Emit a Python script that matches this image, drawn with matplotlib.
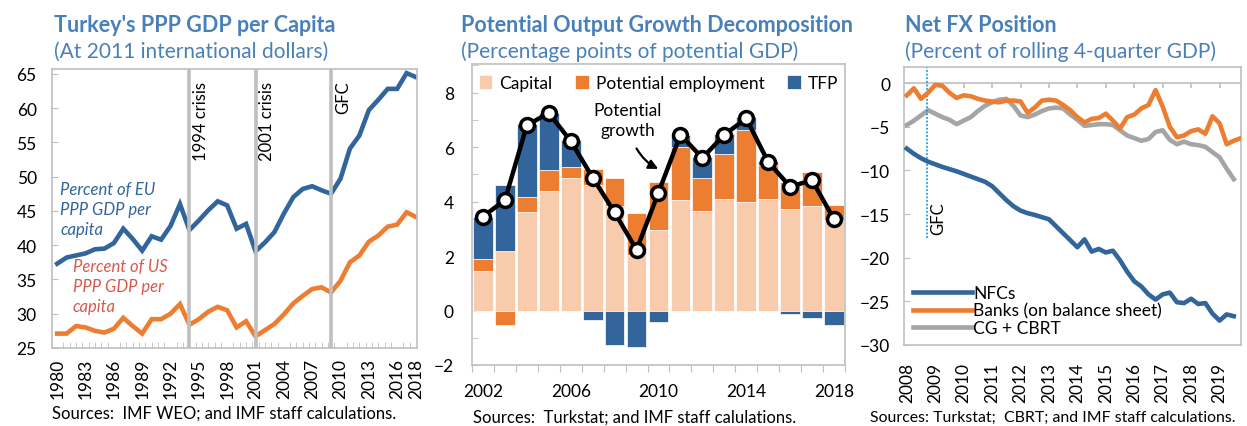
import numpy as np
import matplotlib.pyplot as plt
from matplotlib.ticker import MultipleLocator

plt.rcParams['font.family'] = ['Lato', 'DejaVu Sans']

BLUE = '#31659c'
ORANGE = '#ed7d31'
PEACH = '#f8cbad'
GREY = '#a5a5a5'
FRAME = '#bfbfbf'
TITLE = '#4a80b8'

# ---- panel 1: PPP GDP per capita ----
years = list(range(1980, 2019))
eu_share = [37.3, 38.2, 38.5, 38.8, 39.4, 39.5, 40.3, 42.4, 40.9, 39.2,
            41.3, 40.8, 42.8, 46.0, 42.2, 43.6, 45.1, 46.4, 45.8, 42.4,
            43.1, 39.1, 40.4, 41.9, 44.6, 47.0, 48.2, 48.6, 48.0, 47.5,
            49.7, 54.1, 56.0, 59.7, 61.2, 62.8, 62.8, 65.1, 64.5]
us_share = [27.1, 27.1, 28.2, 28.0, 27.5, 27.25, 27.8, 29.4, 28.2, 27.1,
            29.2, 29.2, 30.0, 31.4, 28.4, 29.2, 30.3, 31.0, 30.5, 28.0,
            28.9, 26.7, 27.6, 28.5, 29.9, 31.5, 32.6, 33.6, 33.85, 33.1,
            34.8, 37.5, 38.5, 40.5, 41.4, 42.7, 43.0, 44.8, 44.1]
crisis_years = [1994, 2001, 2009]
crisis_labels = ['1994 crisis', '2001 crisis', 'GFC']
year_ticks = [1980, 1983, 1986, 1989, 1992, 1995, 1998, 2001, 2004, 2007,
              2010, 2013, 2016, 2018]

# ---- panel 2: potential output growth decomposition ----
decomp_years = list(range(2002, 2019))
capital = [1.45, 2.2, 3.6, 4.37, 4.87, 4.6, 3.84, 2.04, 2.96, 4.04, 3.67,
           4.1, 3.97, 4.11, 3.74, 3.83, 3.32]
employment = [0.45, -0.55, 0.58, 0.78, 0.4, 0.6, 1.04, 1.55, 1.76, 1.95,
              1.2, 1.63, 2.65, 1.25, 0.99, 1.26, 0.57]
tfp = [1.55, 2.4, 2.65, 2.1, 0.98, -0.34, -1.26, -1.33, -0.42, 0.47, 0.75,
       0.75, 0.5, 0.13, -0.12, -0.27, -0.55]
potential = [3.45, 4.05, 6.8, 7.25, 6.22, 4.88, 3.6, 2.23, 4.33, 6.45, 5.6,
             6.45, 7.05, 5.45, 4.55, 4.78, 3.35]

# ---- panel 3: net FX position (quarterly from 2008Q1) ----
nfc = [-7.5, -8.1, -8.6, -9.0, -9.3, -9.6, -9.85, -10.1, -10.4, -10.7,
       -11.0, -11.3, -11.8, -12.6, -13.4, -14.1, -14.6, -14.9, -15.1, -15.35,
       -15.6, -16.4, -17.2, -18.0, -18.8, -17.9, -19.3, -19.0, -19.4, -19.2,
       -20.3, -21.6, -22.7, -23.3, -24.2, -24.8, -24.2, -24.0, -25.1, -25.2,
       -24.7, -25.3, -25.2, -26.4, -27.2, -26.5, -26.7]
banks = [-1.4, -0.6, -1.8, -1.1, -0.2, -0.3, -1.1, -1.7, -1.4, -1.5,
         -1.8, -2.0, -2.1, -2.2, -2.0, -2.0, -2.1, -3.4, -2.8, -2.0,
         -1.9, -2.0, -2.5, -3.1, -3.9, -4.5, -4.1, -4.0, -3.5, -4.3,
         -5.2, -3.9, -3.6, -2.9, -2.5, -0.8, -2.7, -5.0, -6.2, -6.0,
         -5.5, -5.3, -5.8, -3.8, -4.6, -7.0, -6.6, -6.3]
cg_cbrt = [-4.8, -4.3, -3.7, -3.1, -3.5, -3.9, -4.2, -4.7, -4.3, -3.9,
           -3.2, -2.6, -2.2, -1.9, -1.8, -2.6, -3.7, -3.9, -3.6, -3.2,
           -2.9, -2.8, -2.9, -3.6, -4.2, -4.9, -4.8, -4.7, -4.7, -4.8,
           -5.4, -6.0, -6.3, -6.6, -6.4, -5.6, -5.4, -6.5, -7.0, -6.7,
           -7.0, -7.1, -7.3, -7.9, -8.5, -9.8, -11.0]
fx_years = list(range(2008, 2020))
gfc_date = 2008.7


def quarters(n):
    return 2008 + np.arange(n) / 4


def frame(ax):
    for s in ax.spines.values():
        s.set_color(FRAME)
        s.set_linewidth(1.2)


fig = plt.figure(figsize=(12.47, 4.27), dpi=100)

# ================= left =================
ax1 = fig.add_axes([0.0417, 0.1827, 0.2927, 0.6534])
frame(ax1)
ax1.plot(years, eu_share, color=BLUE, lw=3.3, solid_joinstyle='miter', zorder=2)
ax1.plot(years, us_share, color=ORANGE, lw=3.3, solid_joinstyle='miter', zorder=2)
for y, lab in zip(crisis_years, crisis_labels):
    ax1.axvline(y, color=FRAME, lw=2.6, zorder=3)
    ax1.text(y + 1.25, 64.0, lab, rotation=90, ha='center', va='top', fontsize=12)
ax1.set_xlim(1979.45, 2018.1)
ax1.set_ylim(25, 65.7)
ax1.set_yticks(range(25, 70, 5))
ax1.set_xticks(year_ticks)
ax1.set_xticklabels([str(y) for y in year_ticks], rotation=90)
ax1.xaxis.set_minor_locator(MultipleLocator(2 / 3))
ax1.tick_params(axis='y', direction='in', length=4, color=FRAME, labelsize=12.5, pad=11)
ax1.tick_params(axis='x', which='major', length=0, labelsize=12.5, pad=7)
ax1.tick_params(axis='x', which='minor', direction='in', length=4, color=FRAME)
ax1.text(1980.3, 49.4, 'Percent of EU\nPPP GDP per\ncapita', color=BLUE,
         style='italic', fontsize=12, va='top', linespacing=1.3)
ax1.text(1981.66, 38.1, 'Percent of US\nPPP GDP per\ncapita', color='#d65a4a',
         style='italic', fontsize=12, va='top', linespacing=1.3)

# ================= middle =================
ax2 = fig.add_axes([0.3785, 0.1429, 0.2991, 0.7049])
frame(ax2)
cap = np.array(capital)
emp = np.array(employment)
tf = np.array(tfp)
pos_base = np.zeros(len(cap))
neg_base = np.zeros(len(cap))
for vals, col, lab in [(cap, PEACH, 'Capital'), (emp, ORANGE, 'Potential employment'),
                       (tf, BLUE, 'TFP')]:
    bottom = np.where(vals >= 0, pos_base, neg_base)
    ax2.bar(decomp_years, vals, bottom=bottom, width=0.9, color=col,
            edgecolor='white', linewidth=0.5, label=lab, zorder=2)
    pos_base = pos_base + np.where(vals >= 0, vals, 0)
    neg_base = neg_base + np.where(vals < 0, vals, 0)
ax2.plot(decomp_years, potential, color='black', lw=3.2, marker='o', ms=10,
         mfc='white', mec='black', mew=2.5, zorder=4)
ax2.set_xlim(2001.5, 2018.5)
ax2.set_ylim(-2, 9.05)
ax2.set_yticks(range(-2, 10, 2))
ax2.yaxis.set_minor_locator(MultipleLocator(1))
ax2.set_xticks(np.arange(2001.5, 2019, 1))
ax2.set_xticklabels([])
ax2.set_xticks([2002, 2006, 2010, 2014, 2018], minor=True)
ax2.set_xticklabels(['2002', '2006', '2010', '2014', '2018'], minor=True)
ax2.tick_params(axis='x', which='major', direction='out', length=5, color=FRAME)
ax2.tick_params(axis='x', which='minor', length=0, labelsize=12.5, pad=13)
ax2.tick_params(axis='y', which='both', direction='in', length=4, color=FRAME,
                labelsize=12.5, pad=13)
ax2.legend(loc='upper center', ncol=3, frameon=False, fontsize=12.5,
           handlelength=0.8, handleheight=0.8, handletextpad=0.4,
           columnspacing=1.3, bbox_to_anchor=(0.5, 1.015))
ax2.text(2008.61, 6.99, 'Potential\ngrowth', ha='center', va='center',
         fontsize=12.5, linespacing=1.25)
ax2.annotate('', xy=(2009.99, 5.2), xytext=(2009.0, 5.95),
             arrowprops=dict(arrowstyle='-|>', color='black', lw=1.6,
                             mutation_scale=14, shrinkA=0, shrinkB=0,
                             connectionstyle='arc3,rad=0.15'))

# ================= right =================
ax3 = fig.add_axes([0.7249, 0.1897, 0.2702, 0.6511])
frame(ax3)
ax3.axhline(0, color=FRAME, lw=1.2, zorder=1)
ax3.vlines(fx_years[1:], -0.6, 0, color=FRAME, lw=1.2, zorder=1)
ax3.plot(quarters(len(nfc)), nfc, color=BLUE, lw=3.3, label='NFCs', zorder=3)
ax3.plot(quarters(len(banks)), banks, color=ORANGE, lw=3.3,
         label='Banks (on balance sheet)', zorder=3)
ax3.plot(quarters(len(cg_cbrt)), cg_cbrt, color=GREY, lw=3.3, label='CG + CBRT',
         zorder=2)
ax3.axvline(gfc_date, ymin=(30 - 17.7) / 31.85, ymax=1, color='#1f9bde',
            lw=1.3, ls=(0, (1, 1)), zorder=2)
ax3.text(2009.11, -17.3, 'GFC', rotation=90, ha='center', va='bottom', fontsize=12)
ax3.set_xlim(2007.9, 2019.75)
ax3.set_ylim(-30, 1.85)
ax3.set_yticks(range(-30, 1, 5))
ax3.set_xticks(fx_years)
ax3.set_xticklabels([str(y) for y in fx_years], rotation=90)
ax3.tick_params(axis='x', length=0, labelsize=12.5, pad=12)
ax3.tick_params(axis='y', direction='in', length=4, color=FRAME, labelsize=12.5, pad=10)
ax3.legend(loc='lower left', frameon=False, fontsize=12.5, handlelength=3.4,
           handletextpad=0.1, labelspacing=0.1, borderaxespad=0.1)

# ================= titles and sources =================
W, H = 1247, 427


def ftext(x, y, s, **kw):
    fig.text(x / W, 1 - y / H, s, ha='left', va='center', **kw)


ftext(54, 25, "Turkey's PPP GDP per Capita", fontsize=15.5, fontweight='bold', color=TITLE)
ftext(54, 52, '(At 2011 international dollars)', fontsize=15, color=TITLE)
ftext(461, 25, 'Potential Output Growth Decomposition', fontsize=15.5,
      fontweight='bold', color=TITLE)
ftext(461, 52, '(Percentage points of potential GDP)', fontsize=15, color=TITLE)
ftext(905, 25, 'Net FX Position', fontsize=15.5, fontweight='bold', color=TITLE)
ftext(905, 52, '(Percent of rolling 4-quarter GDP)', fontsize=15, color=TITLE)

ftext(52, 414, 'Sources:  IMF WEO; and IMF staff calculations.', fontsize=12)
ftext(473, 418, 'Sources:  Turkstat; and IMF staff calulations.', fontsize=12)
ftext(870, 418, 'Sources: Turkstat;  CBRT; and IMF staff calculations.', fontsize=11.4)

fig.savefig('out.png', dpi=100)
